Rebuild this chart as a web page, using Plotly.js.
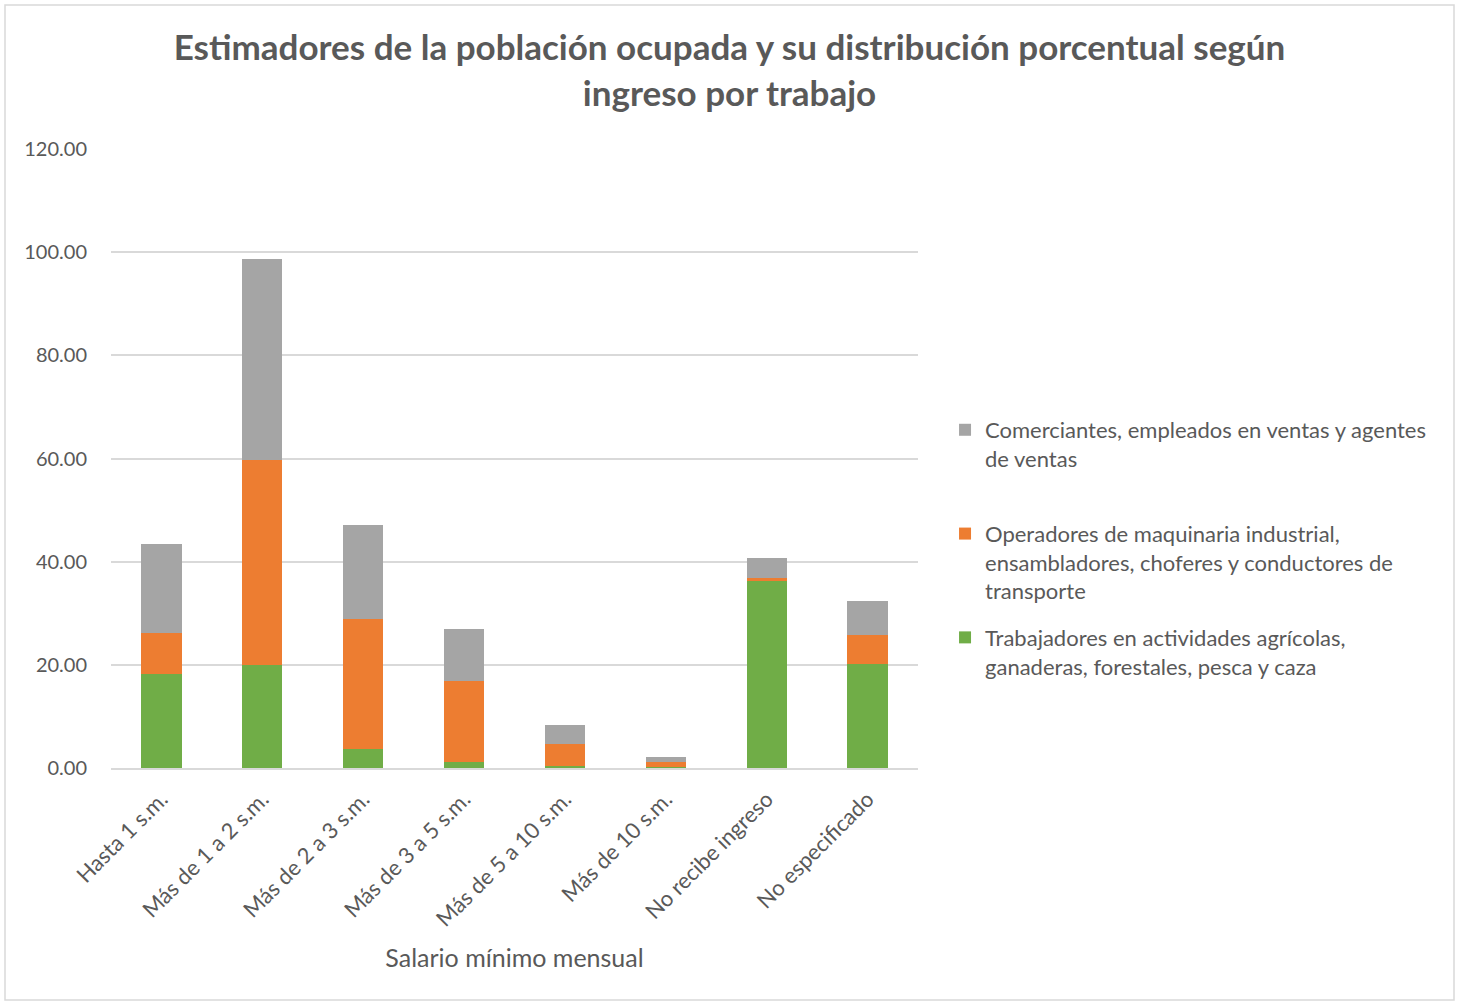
<!DOCTYPE html>
<html>
<head>
<meta charset="utf-8">
<script src="https://cdn.plot.ly/plotly-3.0.1.min.js"></script>
<style>
html,body{margin:0;padding:0;background:#fff;}
#chart{width:1459px;height:1004px;}
</style>
</head>
<body>
<div id="chart"></div>
<script>
var categories = ["Hasta 1 s.m.", "Más de 1 a 2 s.m.", "Más de 2 a 3 s.m.", "Más de 3 a 5 s.m.", "Más de 5 a 10 s.m.", "Más de 10 s.m.", "No recibe ingreso", "No especificado"];
var trabajadores = [18.25, 20.0, 3.6, 1.25, 0.3, 0.1, 36.3, 20.1];
var operadores = [7.85, 39.7, 25.25, 15.55, 4.4, 1.0, 0.5, 5.6];
var comerciantes = [17.4, 39.05, 18.35, 10.1, 3.7, 1.07, 4.0, 6.6];
var seriesNames = [
  "Trabajadores en actividades agrícolas,<br>ganaderas, forestales, pesca y caza",
  "Operadores de maquinaria industrial,<br>ensambladores, choferes y conductores de<br>transporte",
  "Comerciantes, empleados en ventas y agentes<br>de ventas<br> "
];
var tickVals = [0, 20, 40, 60, 80, 100, 120];

var font = "Lato, 'Liberation Sans', sans-serif";
var grey = "#595959";

var traces = [
  {type: "bar", x: categories, y: trabajadores, name: seriesNames[0], legendgroup: "g1", legendrank: 3, marker: {color: "#70AD47"}},
  {type: "bar", x: categories, y: operadores, name: seriesNames[1], legendgroup: "g2", legendrank: 2, marker: {color: "#ED7D31"}},
  {type: "bar", x: categories, y: comerciantes, name: seriesNames[2], legendgroup: "g3", legendrank: 1, marker: {color: "#A5A5A5"}}
];

var layout = {
  width: 1459, height: 1004,
  paper_bgcolor: "#fff", plot_bgcolor: "#fff",
  margin: {l: 111, r: 541, t: 149, b: 236},
  barmode: "stack",
  bargap: 0.6,
  font: {family: font, color: grey, size: 20},
  title: {
    text: "Estimadores de la población ocupada y su distribución porcentual según<br>ingreso por trabajo",
    font: {family: font, size: 35, color: grey, weight: "bold"},
    x: 0.5, xref: "container", xanchor: "center",
    y: 0.94, yref: "container", yanchor: "top"
  },
  xaxis: {
    tickangle: -45,
    tickfont: {family: font, size: 22, color: grey},
    showline: true, linecolor: "#d9d9d9", linewidth: 1.5,
    ticks: "",
    ticklabelstandoff: 8,
    title: {text: "Salario mínimo mensual", font: {family: font, size: 25, color: grey}, standoff: 19}
  },
  yaxis: {
    range: [0, 120],
    tickvals: tickVals,
    tickformat: ".2f",
    tickfont: {family: font, size: 20, color: grey},
    showgrid: true, gridcolor: "#d9d9d9", gridwidth: 1.5,
    zeroline: false, ticks: "",
    ticklabelstandoff: 23
  },
  legend: {
    x: 1.0335, xanchor: "left", y: 0.58, yanchor: "top",
    traceorder: "grouped",
    valign: "top",
    tracegroupgap: 15,
    font: {family: font, size: 22, color: grey},
    itemwidth: 30
  },
  shapes: [{
    type: "rect", xref: "paper", yref: "paper",
    x0: (5 - 111) / 807, x1: (1454 - 111) / 807,
    y0: (768 - 1000) / 619, y1: (768 - 5) / 619,
    line: {color: "#d9d9d9", width: 1.5}, fillcolor: "rgba(0,0,0,0)", layer: "below"
  }],
  showlegend: true
};

Plotly.newPlot("chart", traces, layout, {displayModeBar: false});
</script>
</body>
</html>
